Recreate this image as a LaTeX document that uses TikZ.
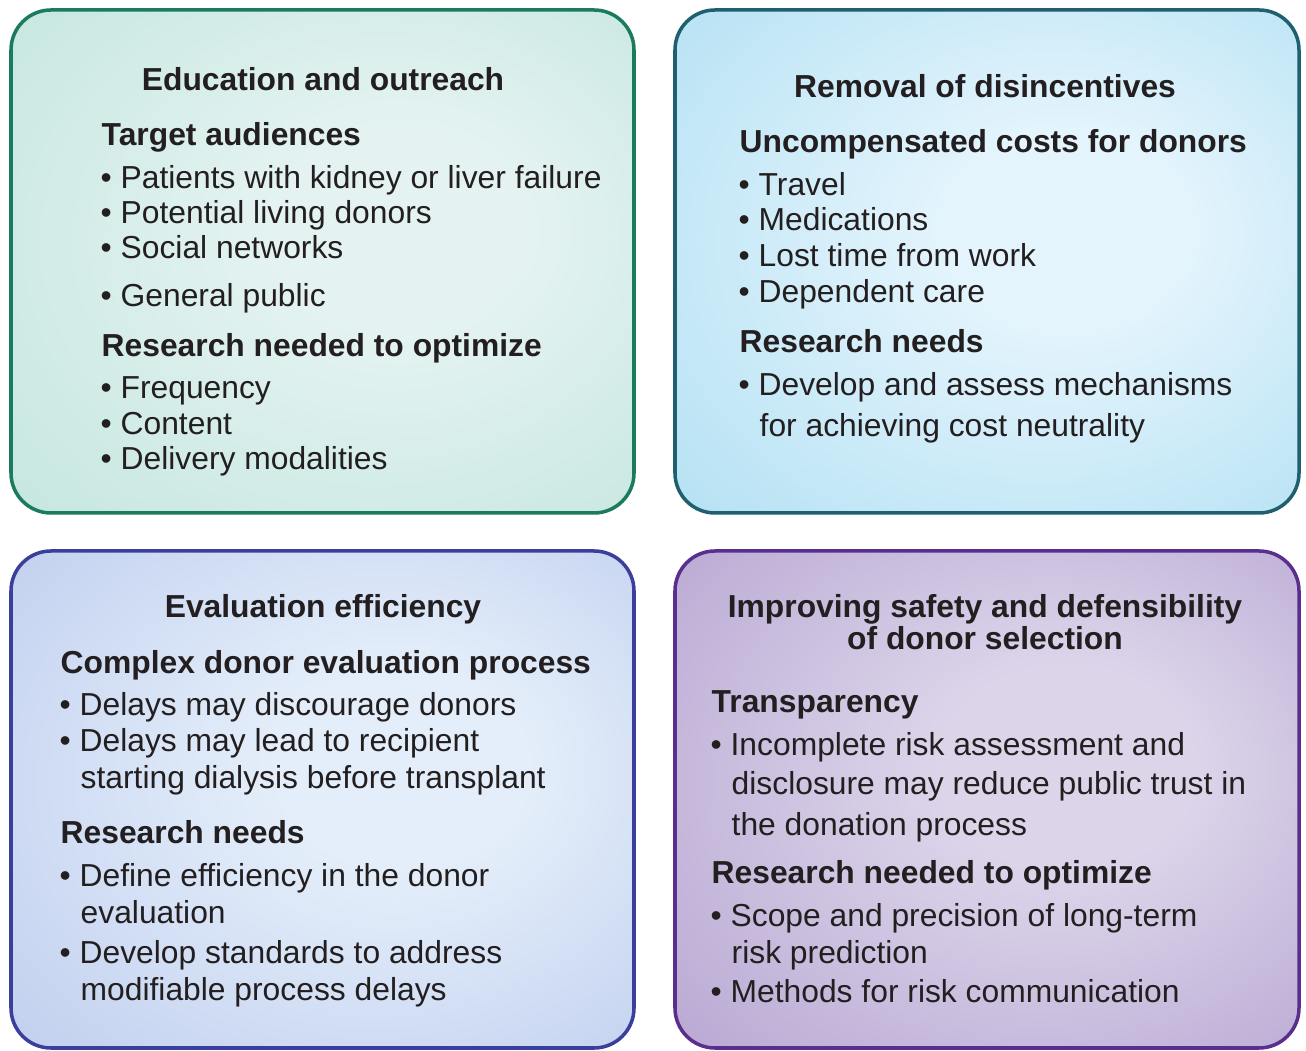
\documentclass[tikz,border=0pt]{standalone}
\usepackage{fontspec}
\setmainfont{Liberation Sans}

\definecolor{ink}{HTML}{231F20}
\definecolor{eduedge}{HTML}{1A7B5E}
\definecolor{eduin}{HTML}{E4F3F2}
\definecolor{eduout}{HTML}{B6E0D5}
\definecolor{costedge}{HTML}{1F5F70}
\definecolor{costin}{HTML}{E3F4FC}
\definecolor{costout}{HTML}{9ED8EF}
\definecolor{evaledge}{HTML}{3B3F9C}
\definecolor{evalin}{HTML}{E4EEFA}
\definecolor{evalout}{HTML}{B0C0E9}
\definecolor{safeedge}{HTML}{5A2E8C}
\definecolor{safein}{HTML}{DCD5EA}
\definecolor{safeout}{HTML}{A892C8}

% soft glow, light in the middle, darker towards the rim
\colorlet{boxin}{white}
\colorlet{boxout}{white}
\pgfdeclareradialshading[boxin,boxout]{boxglow}{\pgfpoint{8bp}{4bp}}{color(0bp)=(boxin); color(10bp)=(boxin); color(52bp)=(boxout)}

\tikzset{
  panel/.style={rounded corners=4mm, line width=1pt, shading=boxglow},
  every node/.style={inner sep=0pt, text=ink, font=\fontsize{9.05}{10.5}\selectfont},
  title/.style={anchor=mid, font=\fontsize{9.05}{10.5}\selectfont\bfseries},
  head/.style={anchor=mid west, font=\fontsize{9.05}{10.5}\selectfont\bfseries},
  item/.style={anchor=mid west},
}

\begin{document}
\begin{tikzpicture}[x=0.1mm, y=-0.1mm]
  \useasboundingbox (0,0) rectangle (1306,1051);

  % the four panels
  \colorlet{boxin}{eduin}\colorlet{boxout}{eduout}
  \draw[panel, draw=eduedge] (11,10) rectangle (634,513);
  \colorlet{boxin}{costin}\colorlet{boxout}{costout}
  \draw[panel, draw=costedge] (675,10) rectangle (1299,513);
  \colorlet{boxin}{evalin}\colorlet{boxout}{evalout}
  \draw[panel, draw=evaledge] (11,551) rectangle (634,1048);
  \colorlet{boxin}{safein}\colorlet{boxout}{safeout}
  \draw[panel, draw=safeedge] (675,551) rectangle (1299,1048);

  % education and outreach
  \node[title] (edu) at (323,81) {Education and outreach};
  \node[head] (edu-aud) at (101,136) {Target audiences};
  \node[item] (edu-a1) at (100,179) {\textbullet\ Patients with kidney or liver failure};
  \node[item] (edu-a2) at (100,214) {\textbullet\ Potential living donors};
  \node[item] (edu-a3) at (100,249) {\textbullet\ Social networks};
  \node[item] (edu-a4) at (100,297) {\textbullet\ General public};
  \node[head] (edu-res) at (101,347) {Research needed to optimize};
  \node[item] (edu-r1) at (100,389) {\textbullet\ Frequency};
  \node[item] (edu-r2) at (100,425) {\textbullet\ Content};
  \node[item] (edu-r3) at (100,460) {\textbullet\ Delivery modalities};

  % removal of disincentives
  \node[title] (cost) at (985,88) {Removal of disincentives};
  \node[head] (cost-unc) at (739,143) {Uncompensated costs for donors};
  \node[item] (cost-u1) at (738,186) {\textbullet\ Travel};
  \node[item] (cost-u2) at (738,221) {\textbullet\ Medications};
  \node[item] (cost-u3) at (738,257) {\textbullet\ Lost time from work};
  \node[item] (cost-u4) at (738,293) {\textbullet\ Dependent care};
  \node[head] (cost-res) at (739,343) {Research needs};
  \node[item] (cost-r1) at (738,386) {\textbullet\ Develop and assess mechanisms};
  \node[item] (cost-r1b) at (759,427) {for achieving cost neutrality};

  % evaluation efficiency
  \node[title] (eval) at (323,608) {Evaluation efficiency};
  \node[head] (eval-cpx) at (60,664) {Complex donor evaluation process};
  \node[item] (eval-c1) at (59,706) {\textbullet\ Delays may discourage donors};
  \node[item] (eval-c2) at (59,742) {\textbullet\ Delays may lead to recipient};
  \node[item] (eval-c2b) at (80,779) {starting dialysis before transplant};
  \node[head] (eval-res) at (60,834) {Research needs};
  \node[item] (eval-r1) at (59,877) {\textbullet\ Define efficiency in the donor};
  \node[item] (eval-r1b) at (80,914) {evaluation};
  \node[item] (eval-r2) at (59,954) {\textbullet\ Develop standards to address};
  \node[item] (eval-r2b) at (80,991) {modifiable process delays};

  % safety of donor selection
  \node[title] (safe) at (985,608) {Improving safety and defensibility};
  \node[title] (safe-b) at (985,640) {of donor selection};
  \node[head] (safe-tr) at (711,703) {Transparency};
  \node[item] (safe-t1) at (710,746) {\textbullet\ Incomplete risk assessment and};
  \node[item] (safe-t1b) at (731,785) {disclosure may reduce public trust in};
  \node[item] (safe-t1c) at (731,826) {the donation process};
  \node[head] (safe-res) at (711,874) {Research needed to optimize};
  \node[item] (safe-r1) at (710,917) {\textbullet\ Scope and precision of long-term};
  \node[item] (safe-r1b) at (731,954) {risk prediction};
  \node[item] (safe-r2) at (710,993) {\textbullet\ Methods for risk communication};
\end{tikzpicture}
\end{document}
